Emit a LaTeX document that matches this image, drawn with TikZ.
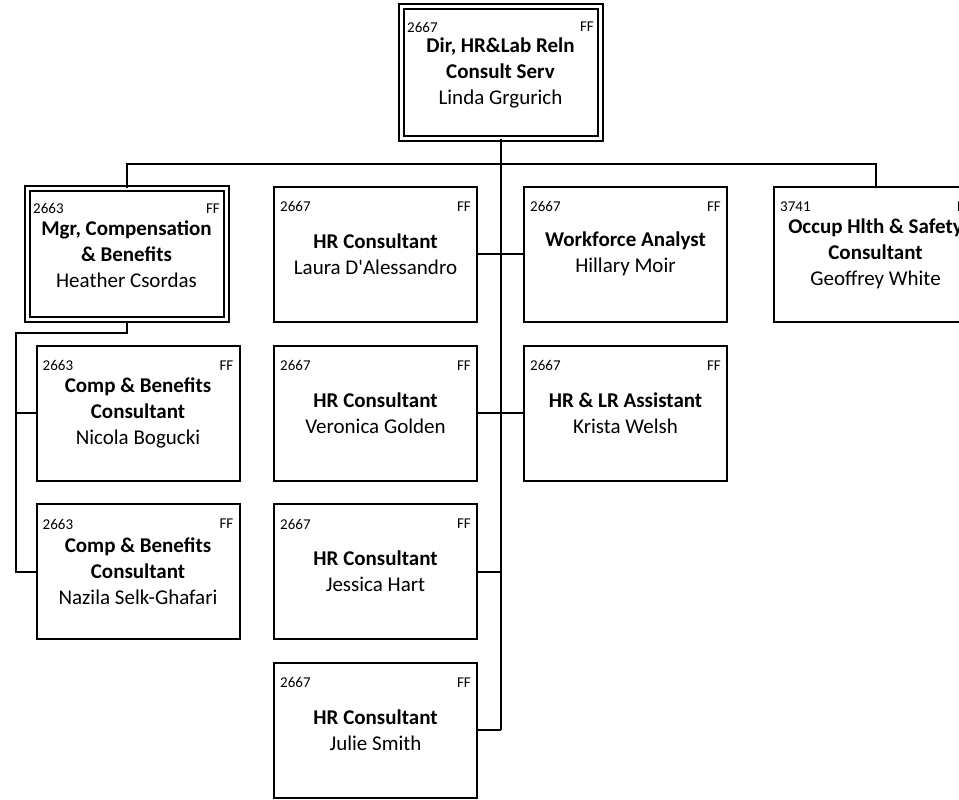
\documentclass[tikz,border=0pt]{standalone}
\usepackage{fontspec}
\setmainfont{Carlito}
\usepackage{tikz}
\usetikzlibrary{positioning, calc}
\newcommand{\posfont}{\fontsize{21}{26}\selectfont}
\newcommand{\codefont}{\fontsize{15}{17}\selectfont}
\tikzset{
  posbox/.style={draw, line width=2pt, minimum width=203pt, minimum height=135pt,
                 align=center, font=\posfont, inner sep=0pt},
  headbox/.style={posbox, double, double distance=3pt,
                  minimum width=199pt, minimum height=131pt},
  codelbl/.style={anchor=west, font=\codefont, inner sep=0pt, xshift=7pt, yshift=-21pt},
  fflbl/.style={anchor=east, font=\codefont, inner sep=0pt, xshift=-7pt, yshift=-21pt},
  conn/.style={line width=2pt},
}

\begin{document}
\begin{tikzpicture}[x=1pt, y=-1pt]
    \path[use as bounding box, clip] (0, 0) rectangle (959, 800);

    \node[headbox, label={[codelbl]north west:2667}, label={[fflbl]north east:FF}] (b1) at (500.5, 72.5)
        {\textbf{Dir, HR\&Lab Reln}\\\textbf{Consult Serv}\\Linda Grgurich};
    \node[headbox, label={[codelbl]north west:2663}, label={[fflbl]north east:FF}] (b2) at (126.5, 254)
        {\textbf{Mgr, Compensation}\\\textbf{\& Benefits}\\Heather Csordas};
    \node[posbox, label={[codelbl]north west:2663}, label={[fflbl]north east:FF}] (b3) at (138, 413)
        {\textbf{Comp \& Benefits}\\\textbf{Consultant}\\Nicola Bogucki};
    \node[posbox, label={[codelbl]north west:2663}, label={[fflbl]north east:FF}] (b4) at (138, 571.5)
        {\textbf{Comp \& Benefits}\\\textbf{Consultant}\\Nazila Selk-Ghafari};
    \node[posbox, label={[codelbl]north west:2667}, label={[fflbl]north east:FF}] (b5) at (375.5, 254)
        {\textbf{HR Consultant}\\Laura D\textquotesingle Alessandro};
    \node[posbox, label={[codelbl]north west:2667}, label={[fflbl]north east:FF}] (b6) at (375.5, 413)
        {\textbf{HR Consultant}\\Veronica Golden};
    \node[posbox, label={[codelbl]north west:2667}, label={[fflbl]north east:FF}] (b7) at (375.5, 571.5)
        {\textbf{HR Consultant}\\Jessica Hart};
    \node[posbox, label={[codelbl]north west:2667}, label={[fflbl]north east:FF}] (b8) at (375.5, 730)
        {\textbf{HR Consultant}\\Julie Smith};
    \node[posbox, label={[codelbl]north west:2667}, label={[fflbl]north east:FF}] (b9) at (625.5, 254)
        {\textbf{Workforce Analyst}\\Hillary Moir};
    \node[posbox, label={[codelbl]north west:2667}, label={[fflbl]north east:FF}] (b10) at (625.5, 413)
        {\textbf{HR \& LR Assistant}\\Krista Welsh};
    \node[posbox, label={[codelbl]north west:3741}, label={[fflbl]north east:FF}] (b11) at (875.5, 254)
        {\textbf{Occup Hlth \& Safety}\\\textbf{Consultant}\\Geoffrey White};

    \coordinate (bus) at (500.5, 164);
    \coordinate (side) at (16, 333);

    \draw[conn] (b1.south) -- (b1.south |- b8.east);
    \draw[conn] (b2.north) |- (bus) -| (b11.north);
    \draw[conn] (b2.south) |- (side) |- (b4.west);
    \draw[conn] (b3.west) -- (b3.west -| side);
    \draw[conn] (b5.east) -- (b9.west);
    \draw[conn] (b6.east) -- (b10.west);
    \draw[conn] (b7.east) -- (b7.east -| b1.south);
    \draw[conn] (b8.east) -- (b8.east -| b1.south);
\end{tikzpicture}
\end{document}
